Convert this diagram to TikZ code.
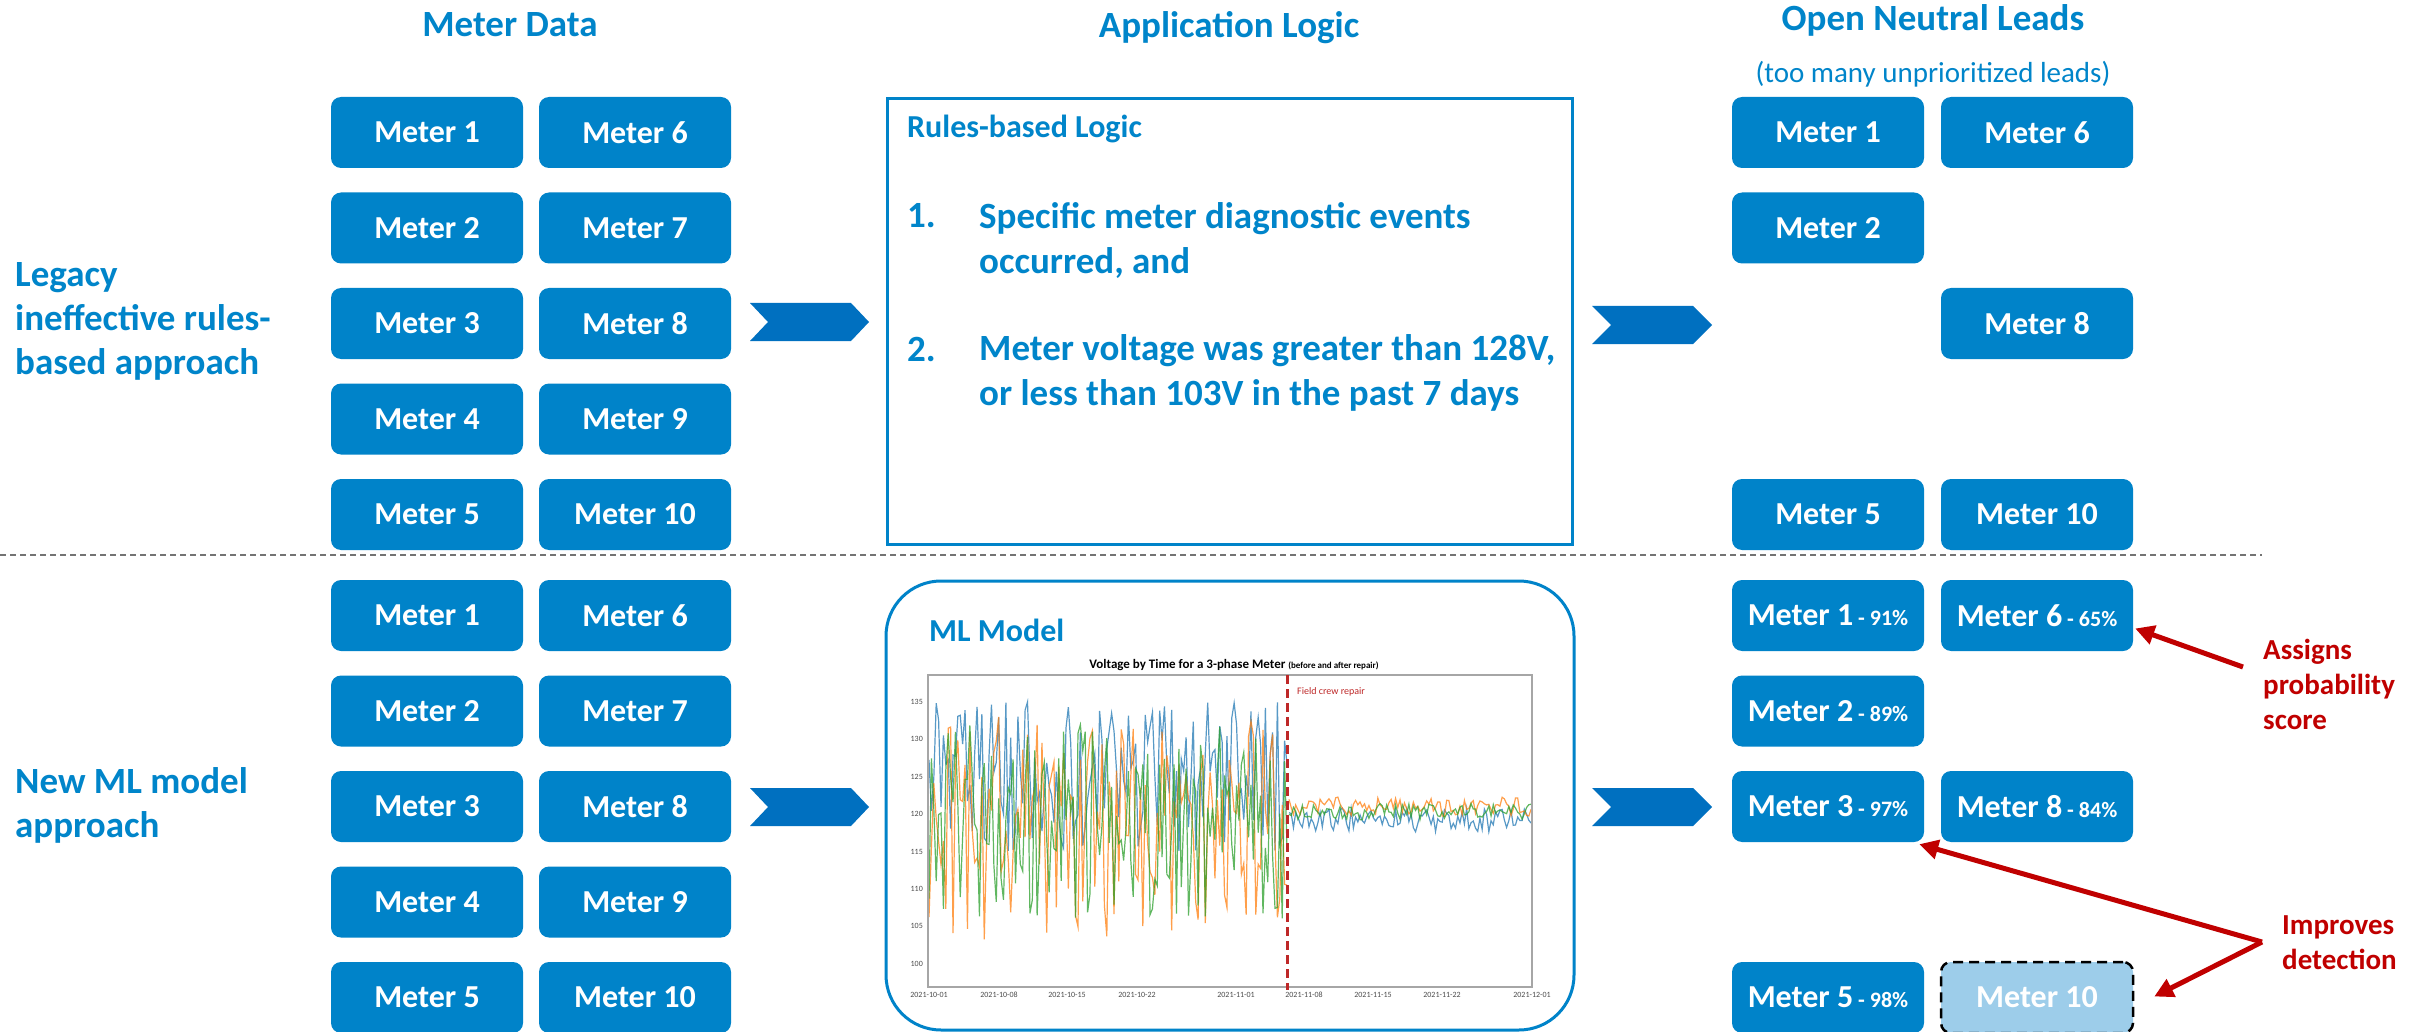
\documentclass[tikz,border=0pt]{standalone}
\usepackage{fontspec}
\setmainfont{Carlito}
\usetikzlibrary{arrows.meta}
\definecolor{boxblue}{RGB}{0,131,201}
\definecolor{hdrblue}{RGB}{0,133,202}
\definecolor{chevblue}{RGB}{0,112,192}
\definecolor{lightbox}{RGB}{157,205,234}
\definecolor{annred}{RGB}{192,0,0}
\definecolor{repred}{RGB}{190,40,40}
\definecolor{sblue}{RGB}{31,119,180}
\definecolor{sorange}{RGB}{255,127,14}
\definecolor{sgreen}{RGB}{44,160,44}
\begin{document}
\begin{tikzpicture}[x=1pt,y=-1pt,
  meter/.style={rectangle, rounded corners=10pt, fill=boxblue, text=white,
    font=\bfseries\fontsize{32}{38}\selectfont, minimum width=192pt,
    minimum height=71pt, inner sep=0pt},
  hdr/.style={text=hdrblue, font=\bfseries\fontsize{37}{44}\selectfont, inner sep=0pt},
  side/.style={text=hdrblue, font=\bfseries\fontsize{37}{44}\selectfont,
    align=left, anchor=west, inner sep=0pt},
  ruletext/.style={text=hdrblue, font=\bfseries\fontsize{37}{45}\selectfont,
    align=left, anchor=west, inner sep=0pt},
  ann/.style={text=annred, font=\bfseries\fontsize{29}{35}\selectfont,
    align=left, anchor=west, inner sep=0pt},
  annarrow/.style={draw=annred, line width=5pt, -{Triangle[length=19pt,width=19pt]}},
  chev/.style={fill=chevblue},
  tick/.style={font=\fontsize{8}{9}\selectfont, text=black!70, inner sep=1pt},
  series/.style={line width=1.2pt, opacity=0.75}
]
\fill[white] (0,0) rectangle (2425,1032);
\useasboundingbox (0,0) rectangle (2425,1032);

% headers
\node[hdr] (hmeter) at (510,25) {Meter Data};
\node[hdr] (happ) at (1229,28) {Application Logic};
\node[hdr] (hopen) at (1933,20) {Open Neutral Leads};
\node[text=hdrblue, font=\fontsize{29}{34}\selectfont, inner sep=0pt] (hsub) at (1933,74) {(too many unprioritized leads)};

% side labels
\node[side] (legacy) at (15,321) {Legacy\\ineffective rules-\\based approach};
\node[side] (newml) at (15,805) {New ML model\\approach};

% separator
\draw[black!55, line width=1.3pt, dash pattern=on 6pt off 4pt] (0,555) -- (2262,555);

% meter data boxes
\foreach \i in {1,...,5}{
  \pgfmathtruncatemacro\j{\i+5}
  \node[meter] (a\i) at (427,{132.5+95.5*(\i-1)}) {Meter \i};
  \node[meter] (a\j) at (635,{132.5+95.5*(\i-1)}) {Meter \j};
  \node[meter] (b\i) at (427,{615.5+95.5*(\i-1)}) {Meter \i};
  \node[meter] (b\j) at (635,{615.5+95.5*(\i-1)}) {Meter \j};
}

% chevrons
\fill[chev] (750,303) -- (851,303) -- (869,322) -- (851,341) -- (750,341) -- (768,322) -- cycle;
\fill[chev] (1592,306) -- (1693,306) -- (1712,325) -- (1693,344) -- (1592,344) -- (1611,325) -- cycle;
\fill[chev] (750,788) -- (851,788) -- (869,807) -- (851,826) -- (750,826) -- (768,807) -- cycle;
\fill[chev] (1592,788) -- (1693,788) -- (1712,807) -- (1693,826) -- (1592,826) -- (1611,807) -- cycle;

% rules-based logic box
\node[draw=boxblue, line width=3pt, minimum width=685pt, minimum height=445pt, inner sep=0pt] (rules) at (1229.5,321.5) {};
\node[text=hdrblue, font=\bfseries\fontsize{32}{38}\selectfont, anchor=west, inner sep=0pt] (rtitle) at (907,129) {Rules-based Logic};
\node[ruletext] (r1n) at (907,216) {1.};
\node[ruletext] (r1t) at (979,240) {Specific meter diagnostic events\\occurred, and};
\node[ruletext] (r2n) at (907,349) {2.};
\node[ruletext] (r2t) at (979,373) {Meter voltage was greater than 128V,\\or less than 103V in the past 7 days};

% ML model box
\node[draw=boxblue, line width=3pt, rounded corners=55pt, minimum width=688pt, minimum height=449pt, inner sep=0pt] (ml) at (1230,805.5) {};
\node[text=hdrblue, font=\bfseries\fontsize{32}{38}\selectfont, anchor=west, inner sep=0pt] (mltitle) at (929,630) {ML Model};

% chart
\node[font=\bfseries\fontsize{13}{15}\selectfont, inner sep=0pt] (ctitle) at (1234,665) {Voltage by Time for a 3-phase Meter {\fontsize{9}{10}\selectfont(before and after repair)}};
\begin{scope}
\clip (928,675) rectangle (1532,987);
\pgfmathsetseed{7}
\draw[series, sblue] plot[domain=929:1287, samples=150] (\x,{814-7.48*(5+10*rand)});
\draw[series, sorange] plot[domain=929:1287, samples=150] (\x,{814-7.48*(-2+15*rand)});
\draw[series, sgreen] plot[domain=929:1287, samples=150] (\x,{814-7.48*(-1+13*rand)});
\draw[series, sblue] plot[domain=1289:1531, samples=110] (\x,{814-7.48*(-0.8+1.6*rand)});
\draw[series, sorange] plot[domain=1289:1531, samples=110] (\x,{814-7.48*(1+1.3*rand)});
\draw[series, sgreen] plot[domain=1289:1531, samples=110] (\x,{814-7.48*(0.3+1.1*rand)});
\end{scope}
\draw[black!35, line width=1.5pt] (928,675) rectangle (1532,987);
\foreach \v [count=\k from 0] in {135,130,125,120,115,110,105,100}{
  \node[tick, anchor=east] (yt\k) at (924,{702+37.4*\k}) {\v};
}
\foreach \d/\xx [count=\k] in {2021-10-01/929,2021-10-08/999,2021-10-15/1067,2021-10-22/1137,2021-11-01/1236,2021-11-08/1304,2021-11-15/1373,2021-11-22/1442,2021-12-01/1532}{
  \node[tick] (xt\k) at (\xx,995) {\d};
}
\draw[repred, line width=3pt, dash pattern=on 9pt off 5pt] (1287,675) -- (1287,990);
\node[text=repred, font=\fontsize{10}{12}\selectfont, anchor=west, inner sep=0pt] (fcr) at (1297,692) {Field crew repair};

% legacy leads
\node[meter] (l1) at (1828,132.5) {Meter 1};
\node[meter] (l6) at (2037,132.5) {Meter 6};
\node[meter] (l2) at (1828,228) {Meter 2};
\node[meter] (l8) at (2037,323.5) {Meter 8};
\node[meter] (l5) at (1828,514.5) {Meter 5};
\node[meter] (l10) at (2037,514.5) {Meter 10};

% ML leads
\newcommand{\pct}[1]{{\fontsize{22}{26}\selectfont\ - #1\%}}
\node[meter] (p1) at (1828,615.5) {Meter 1\pct{91}};
\node[meter] (p6) at (2037,615.5) {Meter 6\pct{65}};
\node[meter] (p2) at (1828,711) {Meter 2\pct{89}};
\node[meter] (p3) at (1828,806.5) {Meter 3\pct{97}};
\node[meter] (p8) at (2037,806.5) {Meter 8\pct{84}};
\node[meter] (p5) at (1828,997.5) {Meter 5\pct{98}};
\node[meter, fill=lightbox, draw=black, line width=2.5pt, dash pattern=on 10pt off 6pt] (p10) at (2037,997.5) {Meter 10};

% annotations
\node[ann] (assign) at (2263,684) {Assigns\\probability\\score};
\node[ann] (improve) at (2282,943) {Improves\\detection};
\coordinate (astart) at (2243,667);
\coordinate (ijoin) at (2262,942);
\draw[annarrow] (astart) -- ([yshift=-13pt,xshift=2pt]p6.east);
\draw[annarrow] (ijoin) -- ([xshift=-5pt,yshift=-2pt]p3.south east);
\draw[annarrow] (ijoin) -- ([xshift=20pt,yshift=1pt]p10.east);
\end{tikzpicture}
\end{document}
